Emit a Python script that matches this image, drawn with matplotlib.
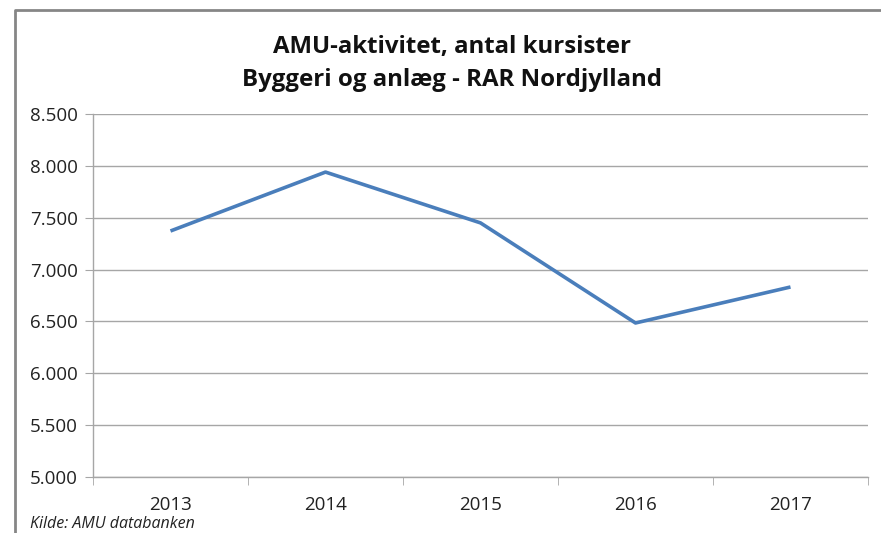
import numpy as np
import matplotlib
matplotlib.use('Agg')
import matplotlib.pyplot as plt
from matplotlib.lines import Line2D
from matplotlib.ticker import FuncFormatter

# data
years = ['2013', '2014', '2015', '2016', '2017']
kursister = [7372, 7940, 7450, 6485, 6832]

title_txt = 'AMU-aktivitet, antal kursister\nByggeri og anlæg - RAR Nordjylland'
kilde_txt = 'Kilde: AMU databanken'

plt.rcParams['font.family'] = ['Open Sans', 'DejaVu Sans']

fig = plt.figure(figsize=(8.81, 5.33), dpi=100)
ax = fig.add_axes([93 / 881, 1 - 477 / 533, 775 / 881, 363 / 533])

x = np.arange(len(years))
ax.plot(x, kursister, color='#4A7EBB', lw=2.6, solid_capstyle='butt')

ax.set_xlim(-0.5, len(years) - 0.5)
ax.set_ylim(5000, 8500)
ax.set_yticks(np.arange(5000, 8501, 500))
ax.yaxis.set_major_formatter(FuncFormatter(lambda v, p: f'{int(v):,}'.replace(',', '.')))
ax.set_xticks(x)
ax.set_xticklabels(years)
ax.set_xticks(np.arange(-0.5, len(years), 1), minor=True)

grid_c = '#a6a6a6'
ax.grid(axis='y', color=grid_c, lw=1)
ax.set_axisbelow(True)
for s in ['top', 'right']:
    ax.spines[s].set_visible(False)
for s in ['left', 'bottom']:
    ax.spines[s].set_color(grid_c)
    ax.spines[s].set_linewidth(1)

ax.tick_params(axis='y', length=6, color=grid_c, labelsize=13.5, labelcolor='#222222', pad=5)
ax.tick_params(axis='x', which='major', length=0, labelsize=13.5, labelcolor='#222222', pad=14)
ax.tick_params(axis='x', which='minor', length=6, color=grid_c)

fig.text(452 / 881, 1 - 63 / 533, title_txt, ha='center', va='center',
         fontsize=17.3, fontweight='bold', linespacing=1.5, color='#111111')
fig.text(30 / 881, 1 - 524 / 533, kilde_txt, ha='left', va='center',
         fontsize=11.5, style='italic', color='#222222')

# outer frame (left and top edges visible)
fig.add_artist(Line2D([15 / 881, 15 / 881, 1], [0, 1 - 10 / 533, 1 - 10 / 533],
                      transform=fig.transFigure, color='#868686', lw=2))

fig.savefig('out.png', dpi=100)
